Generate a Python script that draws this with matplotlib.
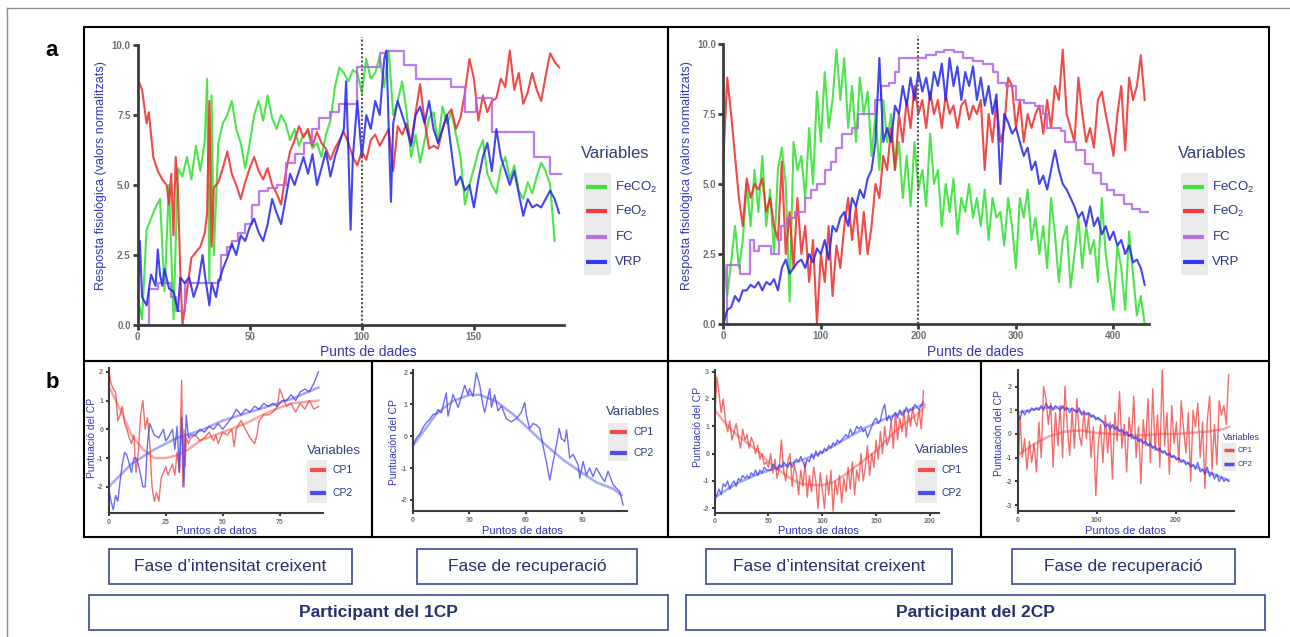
import matplotlib.pyplot as plt
from matplotlib.lines import Line2D
from matplotlib.patches import Rectangle

plt.rcParams['font.family'] = ['Liberation Sans', 'DejaVu Sans']
plt.rcParams['mathtext.fontset'] = 'custom'
plt.rcParams['mathtext.rm'] = 'Liberation Sans'
plt.rcParams['mathtext.it'] = 'Liberation Sans:italic'
plt.rcParams['axes.unicode_minus'] = False

W, H = 1290, 637

# ---------------- data : panel a, participant 1CP ----------------
var_labels = ['FeCO$_2$', 'FeO$_2$', 'FC', 'VRP']
top_yticks = [0, 2.5, 5, 7.5, 10]
top_yticklabels = ['0.0', '2.5', '5.0', '7.5', '10.0']
p1_xticks = [0, 50, 100, 150]
p2_xticks = [0, 100, 200, 300, 400]
p1_split = 100
p2_split = 200

p1_feco2_x = [0, 2, 4, 6, 8, 10, 12, 14, 16, 18, 20, 22, 24, 26, 28, 30, 31, 32, 33, 34,
              36, 38, 40, 42, 44, 46, 48, 50, 52, 54, 56, 58, 60, 62, 64, 66, 68, 70, 72, 74,
              76, 78, 80, 82, 84, 86, 88, 90, 92, 94, 96, 98, 100, 102, 104, 106, 108, 110, 112, 114,
              116, 118, 120, 122, 124, 126, 128, 130, 132, 134, 136, 138, 140, 142, 144, 146, 148, 150, 152, 154,
              156, 158, 160, 162, 164, 166, 168, 170, 172, 174, 176, 178, 180, 182, 184, 186]
p1_feco2 = [1.0, 0.2, 3.4, 3.8, 4.2, 4.5, 1.2, 5.0, 0.2, 5.6, 5.3, 6.0, 5.2, 6.4, 5.5, 6.6, 8.8, 1.5, 8.2, 2.5,
            6.5, 7.2, 7.5, 8.0, 7.0, 6.5, 5.6, 6.5, 7.5, 8.0, 7.3, 8.2, 7.4, 7.0, 7.5, 7.2, 6.6, 7.0, 6.4, 6.8,
            6.9, 6.3, 6.5, 6.0, 6.8, 7.3, 8.5, 9.2, 9.0, 8.7, 9.1, 9.0, 8.3, 9.5, 8.8, 9.0, 9.6, 8.5, 9.8, 7.5,
            8.0, 8.7, 7.6, 6.0, 6.8, 5.8, 6.6, 7.4, 7.6, 6.5, 7.8, 7.2, 7.6, 6.8, 6.0, 4.3, 5.0, 5.6, 6.2, 6.6,
            5.4, 5.0, 4.7, 5.6, 6.0, 5.2, 5.7, 4.8, 4.5, 5.1, 4.7, 5.3, 5.8, 5.5, 5.0, 3.0]

p1_feo2_x = [0, 2, 4, 5, 7, 9, 11, 13, 14, 15, 16, 17, 18, 19, 20, 22, 24, 26, 28, 30,
             31, 32, 33, 34, 36, 38, 40, 42, 44, 46, 48, 50, 52, 54, 56, 58, 60, 62, 64, 66,
             68, 70, 72, 74, 76, 78, 80, 82, 84, 86, 88, 90, 92, 94, 96, 98, 100, 102, 104, 106,
             108, 110, 112, 114, 116, 118, 120, 122, 124, 126, 128, 130, 132, 134, 136, 138, 140, 142, 144, 146,
             148, 150, 152, 154, 156, 158, 160, 162, 164, 166, 168, 170, 172, 174, 176, 178, 180, 182, 184, 186,
             188]
p1_feo2 = [8.8, 8.4, 7.2, 7.6, 6.0, 5.5, 5.2, 5.0, 4.3, 5.4, 3.2, 6.0, 4.8, 2.0, 0.0, 1.2, 2.4, 2.6, 2.8, 3.3,
           4.0, 8.0, 2.8, 4.9, 5.1, 5.6, 6.2, 5.4, 5.0, 4.5, 5.1, 5.6, 6.0, 5.5, 5.2, 5.6, 5.0, 4.7, 4.3, 5.4,
           6.2, 6.6, 7.1, 6.7, 7.0, 6.4, 6.9, 6.5, 6.3, 5.9, 6.3, 6.6, 6.9, 6.5, 6.0, 5.7, 6.2, 5.9, 6.6, 6.8,
           6.4, 6.7, 7.0, 5.5, 7.1, 6.8, 7.2, 6.5, 7.6, 8.6, 7.3, 6.3, 6.4, 6.3, 7.0, 7.5, 7.7, 7.0, 7.4, 8.3,
           9.5, 8.8, 7.3, 8.2, 7.6, 8.0, 8.1, 8.8, 8.5, 9.8, 8.4, 9.0, 7.9, 8.3, 9.0, 8.4, 8.0, 8.9, 9.7, 9.4,
           9.2]

p1_fc_x = [0, 5, 9, 15, 17, 21, 36, 37, 40, 42, 45, 48, 51, 54, 58, 62, 66, 70, 74, 78,
           81, 86, 90, 98, 108, 111, 119, 124, 140, 146, 151, 158, 177, 184, 189]
p1_fc = [0.0, 1.3, 1.5, 1.0, 0.5, 1.5, 1.6, 2.5, 2.8, 3.0, 3.3, 3.6, 4.3, 4.8, 4.9, 5.0, 5.8, 6.1, 6.5, 7.0,
         7.4, 7.6, 7.9, 9.2, 9.7, 9.8, 9.3, 8.8, 8.5, 7.6, 8.1, 6.9, 6.0, 5.4, 5.4]

p1_vrp_x = [0, 1, 2, 4, 6, 8, 9, 10, 11, 12, 14, 16, 18, 19, 21, 23, 25, 27, 29, 30,
            32, 33, 35, 36, 38, 40, 42, 44, 46, 48, 50, 52, 54, 56, 58, 60, 62, 64, 66, 68,
            70, 72, 74, 76, 78, 80, 82, 84, 86, 88, 90, 92, 93, 94, 95, 96, 98, 100, 102, 104,
            106, 108, 110, 111, 112, 113, 114, 116, 118, 120, 122, 124, 126, 128, 130, 132, 134, 136, 138, 140,
            142, 144, 146, 148, 150, 152, 154, 156, 158, 160, 162, 164, 166, 168, 170, 172, 174, 176, 178, 180,
            182, 184, 186, 188]
p1_vrp = [1.2, 3.0, 1.0, 0.7, 1.8, 1.4, 2.7, 1.8, 1.4, 2.0, 1.3, 1.2, 0.5, 1.7, 1.5, 1.7, 1.0, 1.5, 2.5, 1.8,
          0.7, 1.5, 1.0, 1.5, 2.0, 2.4, 2.9, 2.5, 3.2, 3.0, 3.5, 3.8, 3.3, 3.0, 3.6, 4.5, 4.0, 3.6, 4.5, 5.4,
          5.0, 5.5, 6.0, 5.4, 6.1, 5.0, 5.6, 6.2, 5.3, 6.0, 6.5, 7.0, 8.7, 6.2, 3.4, 6.0, 8.0, 6.0, 7.5, 7.0,
          8.0, 7.5, 9.5, 9.8, 7.0, 4.4, 7.2, 8.0, 7.5, 7.0, 6.4, 7.5, 7.8, 7.2, 8.0, 7.0, 6.5, 7.0, 7.5, 6.2,
          5.0, 5.3, 4.8, 5.0, 4.2, 5.2, 6.0, 6.5, 5.5, 7.0, 6.0, 5.5, 5.0, 5.5, 4.7, 3.9, 4.5, 4.2, 4.3, 4.2,
          4.5, 4.8, 4.5, 4.0]

# ---------------- data : panel a, participant 2CP ----------------
p2_x = list(range(0, 436, 4))
p2_feco2 = [2.5, 1.0, 2.2, 3.5, 2.0, 3.0, 5.0, 3.5, 5.5, 4.0,
            6.0, 3.5, 4.8, 2.5, 5.5, 6.3, 5.0, 0.8, 6.5, 5.5,
            6.0, 4.5, 7.0, 5.0, 8.3, 6.5, 9.0, 7.0, 8.0, 9.8,
            8.0, 9.5, 7.0, 8.5, 6.5, 8.8, 7.5, 8.3, 6.0, 7.5,
            5.5, 8.0, 6.5, 7.5, 5.5, 6.5, 4.5, 6.0, 4.2, 6.5,
            4.8, 5.5, 4.2, 6.8, 5.0, 5.5, 3.5, 5.0, 4.0, 5.2,
            3.2, 4.5, 4.0, 5.0, 3.8, 4.5, 3.5, 4.8, 3.0, 4.5,
            3.8, 4.0, 2.8, 4.5, 3.5, 2.0, 4.5, 3.8, 4.8, 3.0,
            3.8, 2.5, 3.5, 2.0, 4.5, 3.2, 1.5, 3.0, 3.5, 1.3,
            2.5, 3.8, 2.0, 3.5, 2.5, 3.0, 1.5, 4.5, 2.5, 1.5,
            0.5, 2.8, 2.0, 0.5, 3.3, 1.8, 0.3, 1.0, 0.0]
p2_feo2 = [5.8, 8.8, 7.5, 6.0, 4.5, 3.5, 5.2, 4.5, 5.0, 4.8,
           5.2, 4.0, 4.5, 3.5, 3.0, 5.8, 2.5, 4.0, 2.0, 4.5,
           2.5, 3.5, 1.5, 3.0, 0.0, 2.5, 1.5, 3.5, 1.0, 2.8,
           2.0, 3.5, 4.5, 3.0, 4.2, 2.5, 4.0, 2.5, 3.5, 5.0,
           4.5, 6.0, 5.5, 7.0, 5.5, 7.5, 6.5, 8.0, 7.0, 8.5,
           7.5, 8.0, 7.0, 8.3, 7.5, 8.0, 7.0, 8.2, 7.5, 7.8,
           7.0, 7.8, 8.0, 7.3, 7.8, 7.5, 8.0, 5.5, 7.5, 6.5,
           8.0, 6.5, 7.0, 8.8, 8.5, 7.0, 8.0, 6.5, 7.5, 7.0,
           7.5, 7.8, 6.8, 8.0, 7.0, 8.5, 8.0, 9.8, 7.5, 7.0,
           6.5, 8.8, 7.5, 6.5, 7.0, 6.3, 8.0, 8.3, 7.5, 6.8,
           6.0, 7.5, 8.5, 6.2, 8.8, 8.0, 8.5, 9.6, 8.0]
p2_vrp = [0.0, 0.5, 0.6, 1.0, 0.8, 1.2, 1.2, 1.4, 1.3, 1.5,
          1.2, 1.5, 1.4, 1.6, 1.2, 2.0, 2.3, 1.8, 2.0, 2.2,
          2.3, 2.0, 2.5, 2.2, 2.7, 2.5, 3.0, 2.3, 3.5, 3.3,
          3.8, 4.0, 3.5, 4.5, 4.2, 4.8, 4.5, 5.2, 5.5, 6.5,
          9.5, 6.5, 7.0, 6.5, 7.8, 7.5, 8.5, 7.8, 8.8, 8.0,
          9.0, 8.3, 8.8, 8.0, 9.0, 8.5, 9.3, 8.0, 9.5, 8.5,
          9.2, 8.0, 9.0, 8.5, 9.2, 8.0, 8.8, 7.8, 8.5, 7.5,
          8.2, 5.0, 7.5, 7.2, 6.8, 7.0, 6.5, 6.0, 6.3, 5.5,
          5.8, 5.0, 5.3, 4.8, 5.5, 6.2, 5.5, 5.0, 4.8, 4.5,
          4.2, 3.8, 4.0, 3.5, 4.2, 3.5, 3.8, 3.2, 3.5, 3.0,
          3.3, 2.8, 3.0, 2.5, 2.8, 2.2, 2.3, 2.0, 1.4]
p2_fc_x = [0, 4, 17, 27, 31, 37, 49, 57, 59, 65, 73, 84, 90, 96, 104, 110, 116, 122, 132, 138,
           156, 162, 170, 176, 180, 208, 218, 226, 236, 246, 256, 266, 276, 282, 290, 300, 308, 320, 328, 332,
           346, 350, 362, 371, 379, 387, 393, 401, 411, 419, 427, 436]
p2_fc = [0.0, 2.1, 1.8, 3.0, 2.6, 2.8, 2.5, 3.0, 3.5, 3.8, 4.0, 4.5, 4.8, 5.0, 5.5, 5.8, 6.3, 6.8, 7.0, 7.5,
         8.0, 8.5, 8.6, 9.0, 9.5, 9.6, 9.7, 9.8, 9.7, 9.5, 9.4, 9.3, 9.0, 8.6, 8.5, 8.0, 7.9, 7.8, 7.5, 7.0,
         6.9, 6.5, 6.2, 5.7, 5.4, 5.0, 4.8, 4.6, 4.3, 4.1, 4.0, 4.0]

# ---------------- data : panel b (principal component scores) ----------------
cp_labels = ['CP1', 'CP2']

b1_cp1_x = [0, 1, 2, 3, 4, 5, 6, 7, 8, 9, 10, 11, 12, 13, 14, 15, 16, 17, 18, 19,
            20, 21, 22, 23, 24, 25, 26, 27, 28, 29, 30, 31, 32, 32.5, 33, 33.5, 34, 35, 36, 38,
            40, 42, 44, 46, 47, 48, 50, 52, 54, 55, 56, 58, 60, 62, 64, 65, 66, 68, 70, 72,
            74, 75, 76, 78, 80, 82, 84, 86, 88, 90, 92]
b1_cp1 = [2.1, 1.6, 1.4, 1.3, 0.3, 0.5, 0.8, 0.2, 0.0, -0.3, -0.5, -0.2, -1.5, -0.8, 0.5, 1.0, 0.0, 0.4, -0.5, -2.0,
          -2.5, -2.2, -2.5, -1.7, -1.5, -1.3, -1.6, -1.4, -1.2, -1.6, -0.8, -1.5, 1.7, -2.0, 0.0, -1.3, -0.3, -0.5, -0.3, -0.2,
          -0.4, -0.3, -0.1, -0.4, -0.2, -0.5, -0.1, -0.2, 0.0, -0.6, 0.0, 0.3, 0.0, -0.3, -0.5, -0.2, 0.3, 0.5, 0.5, 0.6,
          0.8, 1.4, 1.2, 0.8, 0.9, 0.6, 0.9, 0.7, 1.0, 0.7, 0.8]
b1_cp2_x = [0, 1, 2, 3, 4, 5, 6, 7, 8, 9, 10, 11, 12, 13, 14, 15, 16, 17, 18, 19,
            20, 22, 24, 25, 26, 28, 29, 30, 31, 32, 33, 34, 35, 36, 38, 40, 42, 44, 46, 48,
            50, 52, 54, 56, 58, 60, 62, 64, 66, 68, 70, 72, 74, 76, 78, 80, 82, 84, 86, 88,
            90, 92]
b1_cp2 = [-2.0, -2.5, -2.8, -2.3, -2.5, -1.8, -1.2, -0.8, -0.9, -1.2, -1.5, -1.0, -1.0, -1.2, -1.6, -2.0, -2.0, -0.5, 0.2, 0.0,
          -0.2, -0.3, 0.0, -0.4, -0.3, 0.0, -0.7, 0.1, -1.5, 0.4, -2.0, 0.5, -0.3, -0.2, -0.2, 0.0, -0.1, 0.1, 0.0, 0.2,
          0.0, 0.2, 0.4, 0.7, 0.5, 0.7, 0.6, 0.8, 0.7, 0.9, 0.8, 0.9, 0.8, 1.0, 1.0, 1.2, 1.0, 1.3, 1.4, 1.3,
          1.6, 2.0]
b1_cp1_fit_x = [0, 5, 10, 15, 20, 25, 30, 35, 40, 50, 60, 70, 80, 92]
b1_cp1_fit = [1.5, 0.7, -0.2, -0.7, -1.0, -1.0, -0.9, -0.7, -0.4, -0.1, 0.2, 0.6, 0.9, 1.0]
b1_cp2_fit_x = [0, 10, 20, 30, 40, 50, 60, 70, 80, 92]
b1_cp2_fit = [-2.0, -1.2, -0.7, -0.3, -0.05, 0.3, 0.55, 0.8, 1.05, 1.45]

b2_cp2_x = [0, 1.8, 3.5, 5.3, 7.1, 8.9, 10.6, 12.4, 13.3, 15, 17.7, 18.6, 21.3, 24, 27.5, 29.3, 30, 31.9, 33.7, 35.5,
            37.2, 38.1, 40.8, 41.7, 43.4, 45.2, 47, 49.6, 52.3, 54.9, 57.6, 59.4, 60.3, 62, 63.8, 65.6, 67.4, 69.1, 70.9, 72.7,
            74.5, 76.2, 77.7, 78.9, 80.7, 81.6, 83.3, 85.1, 87.8, 88.6, 90.4, 92.2, 93.9, 95.7, 97.5, 100.1, 101.9, 103.7, 106.4, 108.2,
            109.9, 111.7]
b2_cp2 = [-0.3, -0.05, 0.06, 0.27, 0.43, 0.53, 0.68, 0.7, 0.84, 0.73, 1.36, 0.63, 1.31, 0.9, 1.6, 1.3, 1.5, 1.25, 2.0, 1.6,
          0.96, 0.75, 1.5, 0.9, 1.3, 0.8, 0.95, 0.55, 0.45, 0.55, 0.75, 1.06, 0.65, 0.24, 0.4, 0.35, 0.24, -0.3, -0.8, -1.38,
          -0.8, -0.3, 0.24, -0.07, -0.17, 0.2, -0.68, -0.57, -0.9, -1.32, -0.8, -1.22, -1.0, -1.27, -1.0, -1.27, -1.43, -1.1, -1.53, -1.64,
          -1.74, -2.16]
b2_cp2_fit_x = [0, 12.4, 21, 30, 35.5, 44, 53, 62, 71, 80, 88.6, 97.5, 106.4, 110.8]
b2_cp2_fit = [-0.3, 0.7, 1.1, 1.3, 1.3, 1.1, 0.7, 0.2, -0.3, -0.75, -1.1, -1.45, -1.65, -1.85]

b3_x = list(range(0, 196, 2))
b3_cp1 = [1.3, 2.8, 2.2, 1.5, 2.0, 1.2, 0.8, 1.2, 0.5, 0.8,
          1.1, 0.6, 0.2, 0.9, 0.5, 0.7, 0.2, 0.6, 0.4, 0.0,
          0.3, -0.2, 0.0, -0.4, -0.3, -0.5, 0.0, -0.7, -0.2, -0.9,
          -0.5, 0.5, -0.6, -1.0, -0.3, 0.0, -1.2, -0.4, -0.8, -1.5,
          -0.6, -1.2, -0.3, -1.6, -0.8, -1.4, -0.5, -1.0, -2.0, -0.7,
          -1.3, -2.0, -0.8, -1.5, -0.6, -2.1, -1.0, -1.5, -0.8, -1.8,
          -0.9, -1.4, -0.5, -1.3, -0.3, -1.5, -0.6, -1.0, 0.0, -1.0,
          -0.5, 0.3, -0.8, 0.0, -0.5, 0.5, -0.2, 0.8, 0.0, 1.0,
          0.3, 0.5, 1.2, 0.2, 1.5, 0.5, 1.3, 0.8, 1.6, 0.6,
          1.5, 1.0, 1.7, 1.2, 1.0, 1.6, 0.9, 2.3]
b3_cp2 = [-1.7, -1.5, -1.3, -1.5, -1.1, -1.2, -1.0, -1.3, -1.1, -1.0,
          -1.2, -0.9, -1.0, -0.8, -0.9, -0.8, -0.9, -0.7, -0.8, -0.6,
          -0.8, -0.6, -0.7, -0.5, -0.6, -0.6, -0.6, -0.4, -0.5, -0.6,
          -0.4, -0.5, -0.3, -0.4, -0.5, -0.3, -0.5, -0.3, -0.2, -0.3,
          -0.1, -0.3, -0.5, -0.2, -0.3, 0.0, -0.2, 0.1, -0.1, 0.1,
          0.0, 0.2, 0.1, 0.3, 0.2, 0.4, 0.3, 0.5, 0.4, 0.5,
          0.6, 0.7, 0.6, 0.9, 0.7, 0.8, 1.0, 0.9, 1.0, 0.8,
          0.9, 0.6, 0.8, 1.0, 1.2, 1.3, 1.1, 1.2, 1.6, 1.8,
          1.2, 1.4, 1.2, 1.4, 1.5, 1.3, 1.6, 1.4, 1.5, 1.7,
          1.5, 1.6, 1.6, 1.8, 1.7, 1.6, 1.8, 1.9]
b3_cp1_fit_x = [0, 10, 20, 30, 40, 50, 60, 70, 80, 90, 100, 110, 120, 130, 140, 150, 160, 170, 180, 190, 195]
b3_cp1_fit = [1.6, 1.1, 0.7, 0.4, 0.1, -0.3, -0.6, -0.9, -1.1, -1.15, -1.15, -1.05, -0.8, -0.5, -0.2, 0.1, 0.5, 0.9, 1.2, 1.5, 1.7]
b3_cp2_fit_x = [0, 20, 40, 60, 80, 100, 120, 140, 160, 180, 195]
b3_cp2_fit = [-1.6, -1.1, -0.75, -0.5, -0.25, 0.05, 0.5, 0.95, 1.3, 1.6, 1.8]

b4_x = list(range(0, 270, 3))
b4_cp1 = [-2.9, 0.8, -1.0, -0.2, -1.5, -0.3, -1.2, -0.4, -1.6, 0.5,
          -1.0, 2.0, 1.5, 0.4, 1.3, -1.4, 0.9, -0.5, 1.2, -1.0,
          2.0, 0.3, -0.9, 1.0, -0.6, 1.5, 0.0, -0.5, 1.0, -0.2,
          0.8, -1.0, 0.3, -2.6, -0.5, 0.4, -1.2, 0.8, -0.8, 0.5,
          -1.9, 0.9, -0.3, 1.8, -0.6, 0.4, -1.6, 0.7, -0.2, 1.6,
          -1.0, 0.3, -2.1, 0.6, -0.5, 1.5, -1.2, 1.9, -0.7, 0.8,
          -1.4, 2.8, -0.5, 0.9, -1.7, 1.2, -0.4, 0.5, -1.2, 1.4,
          0.2, -0.8, 0.9, -2.0, 1.0, 0.3, 1.3, -1.0, 0.5, -2.3,
          0.6, 1.6, -1.5, 0.4, -1.3, 1.4, 0.8, 1.2, 0.4, 2.5]
b4_cp2 = [0.9, 0.6, 1.0, 0.8, 1.0, 0.9, 1.1, 1.0, 1.1, 1.0,
          1.2, 1.0, 1.3, 1.1, 1.2, 1.0, 1.2, 1.1, 1.0, 1.2,
          1.0, 1.1, 0.9, 1.1, 1.0, 0.9, 1.1, 0.8, 0.9, 0.8,
          0.9, 0.7, 0.8, 0.6, 0.7, 0.6, 0.5, 0.3, 0.4, 0.2,
          0.4, 0.2, 0.3, 0.1, 0.2, 0.0, 0.1, -0.1, 0.0, -0.2,
          -0.1, -0.3, -0.2, -0.4, -0.3, -0.5, -0.4, -0.6, -0.5, -0.7,
          -0.6, -0.8, -0.7, -0.9, -0.8, -1.0, -0.9, -1.1, -1.0, -1.2,
          -1.1, -1.3, -1.2, -1.4, -1.3, -1.5, -1.2, -1.6, -1.5, -1.7,
          -1.4, -1.8, -1.6, -1.9, -1.7, -2.0, -1.8, -2.0, -1.9, -2.0]
b4_cp1_fit_x = [0, 20, 40, 60, 80, 100, 120, 140, 160, 180, 200, 220, 240, 260, 267]
b4_cp1_fit = [-0.9, -0.45, -0.1, 0.1, 0.15, 0.05, 0.0, -0.05, -0.05, 0.0, 0.0, 0.05, 0.1, 0.2, 0.3]
b4_cp2_fit_x = [0, 30, 60, 90, 120, 150, 180, 210, 240, 267]
b4_cp2_fit = [0.9, 1.1, 1.1, 0.85, 0.3, -0.2, -0.7, -1.15, -1.6, -1.95]

phase_labels = ['Fase d\u2019intensitat creixent', 'Fase de recuperaci\u00f3']
participant_labels = ['Participant del 1CP', 'Participant del 2CP']

# ---------------- styles ----------------
GREEN, RED, PURPLE, BLUE = '#2fe02f', '#ee2a2a', '#b066e6', '#2424ee'
B_RED, B_BLUE = '#f03c3c', '#3c3cf0'
AX_COL = '#3c3c3c'
LAB_COL = '#3636b8'
LEG_TITLE = '#34407e'
LEG_TEXT = '#2a3688'
BOX_EDGE = '#4a56a0'
BOX_TEXT = '#28306e'

fig = plt.figure(figsize=(W / 100, H / 100), dpi=100)


def px_axes(x0, x1, y0, y1):
    return fig.add_axes([x0 / W, 1 - y1 / H, (x1 - x0) / W, (y1 - y0) / H])


def ftext(x, y, s, **kw):
    fig.text(x / W, 1 - y / H, s, **kw)


def fline(x0, x1, y0, y1, **kw):
    fig.add_artist(Line2D([x0 / W, x1 / W], [1 - y0 / H, 1 - y1 / H],
                          transform=fig.transFigure, **kw))


def frect(x0, y0, x1, y1, **kw):
    fig.add_artist(Rectangle((x0 / W, 1 - y1 / H), (x1 - x0) / W, (y1 - y0) / H,
                             transform=fig.transFigure, **kw))


def style(ax, lw, size, length):
    for s in ('top', 'right'):
        ax.spines[s].set_visible(False)
    for s in ('left', 'bottom'):
        ax.spines[s].set_linewidth(lw)
        ax.spines[s].set_color(AX_COL)
    ax.tick_params(direction='out', length=length, width=lw, color=AX_COL,
                   labelsize=size, labelcolor='#707070', pad=1.5)
    for lab in ax.get_xticklabels() + ax.get_yticklabels():
        lab.set_fontweight('bold')
    ax.patch.set_alpha(0)


def legend(title_xy, tsize, kx, rows, labels, colors, lsize, klw, bg):
    frect(*bg, facecolor='#ebebeb', edgecolor='none')
    ftext(title_xy[0], title_xy[1], 'Variables', fontsize=tsize, color=LEG_TITLE,
          ha='center', va='center')
    for y, lab, c in zip(rows, labels, colors):
        fline(kx[0], kx[1], y, y, color=c, lw=klw, alpha=0.9, solid_capstyle='butt')
        ftext(kx[1] + (kx[1] - kx[0]) * 0.4, y, lab, fontsize=lsize, color=LEG_TEXT,
              ha='left', va='center')


# outer frame and panel boxes
fline(7, W, 8, 8, color='#8c8c8c', lw=1)
fline(7, 7, 8, H, color='#8c8c8c', lw=1)
for (x0, y0, x1, y1) in [(84, 27, 668, 361), (668, 27, 1269, 361),
                         (84, 361, 372, 537), (372, 361, 668, 537),
                         (668, 361, 981, 537), (981, 361, 1269, 537)]:
    frect(x0, y0, x1, y1, facecolor='none', edgecolor='black', lw=1.5)

ftext(52, 50, 'a', fontsize=16, fontweight='bold', ha='center', va='center')
ftext(52, 383, 'b', fontsize=16, fontweight='bold', ha='center', va='center')

# ---------------- panel a ----------------
top_colors = [GREEN, RED, PURPLE, BLUE]
for (x0, x1, y0, y1, xmax, xticks, split, series, fc, ylab_x, xlab_x, leg) in [
        (137.6, 563.6, 45, 325, 190, p1_xticks, p1_split,
         [(p1_feco2_x, p1_feco2), (p1_feo2_x, p1_feo2), None, (p1_vrp_x, p1_vrp)],
         (p1_fc_x, p1_fc), 101, 368, (586, 607, 584, 611)),
        (723.3, 1148.6, 44, 324, 436, p2_xticks, p2_split,
         [(p2_x, p2_feco2), (p2_x, p2_feo2), None, (p2_x, p2_vrp)],
         (p2_fc_x, p2_fc), 687, 975, (1183, 1204, 1181, 1208))]:
    ax = px_axes(x0, x1, y0, y1)
    for s, c in zip(series, top_colors):
        if s is None:
            ax.plot(fc[0], fc[1], color=PURPLE, lw=1.6, alpha=0.85, drawstyle='steps-post')
        else:
            ax.plot(s[0], s[1], color=c, lw=1.5, alpha=0.85)
    ax.axvline(split, ymin=0, ymax=1.03, color='#555555', ls=(0, (1, 1)), lw=1.5, clip_on=False)
    ax.set_xlim(0, xmax)
    ax.set_ylim(0, 10)
    ax.set_xticks(xticks)
    ax.set_yticks(top_yticks)
    ax.set_yticklabels(top_yticklabels)
    style(ax, 2.0, 7, 3.5)
    ftext(ylab_x, 176, 'Resposta fisiològica (valors normalitzats)', fontsize=9,
          color=LAB_COL, rotation=90, ha='center', va='center')
    ftext(xlab_x, 352, 'Punts de dades', fontsize=10, color=LAB_COL, ha='center', va='center')
    kx0, kx1, bx0, bx1 = leg
    legend(((bx0 + bx1) / 2 + 18, 153), 12, (kx0, kx1), [187, 211, 237, 262],
           var_labels, top_colors, 9.5, 3, (bx0, 173, bx1, 275))

# ---------------- panel b ----------------
b_panels = [
    dict(box=(108.7, 323, 368.3, 513.3), xlim=(0, 94), ylim=(-2.92, 2.12),
         xticks=[0, 25, 50, 75], yticks=[-2, -1, 0, 1, 2],
         lines=[(b1_cp1_x, b1_cp1, B_RED), (b1_cp2_x, b1_cp2, B_BLUE)],
         fits=[(b1_cp1_fit_x, b1_cp1_fit, B_RED), (b1_cp2_fit_x, b1_cp2_fit, B_BLUE)],
         ylab=('Puntuació del CP', 92, 438), xlab=216,
         leg=((334, 451), 9.5, (310, 326), [470, 493], 7.5, 3, (307, 460, 327, 503))),
    dict(box=(413, 626.7, 370, 511), xlim=(0, 113.6), ylim=(-2.35, 2.08),
         xticks=[0, 30, 60, 90], yticks=[-2, -1, 0, 1, 2],
         lines=[(b2_cp2_x, b2_cp2, B_BLUE)],
         fits=[(b2_cp2_fit_x, b2_cp2_fit, B_BLUE)],
         ylab=('Puntuación del CP', 394, 442), xlab=522,
         leg=((633, 412), 9.5, (610, 627), [432, 453], 7.5, 3, (608, 423, 628, 461))),
    dict(box=(714.7, 938.5, 370, 512.7), xlim=(0, 208), ylim=(-2.16, 3.06),
         xticks=[0, 50, 100, 150, 200], yticks=[-2, -1, 0, 1, 2, 3],
         lines=[(b3_x, b3_cp1, B_RED), (b3_x, b3_cp2, B_BLUE)],
         fits=[(b3_cp1_fit_x, b3_cp1_fit, B_RED), (b3_cp2_fit_x, b3_cp2_fit, B_BLUE)],
         ylab=('Puntuació del CP', 698, 427), xlab=818,
         leg=((942, 450), 9.5, (918, 935), [470, 493], 7.5, 3, (915, 460, 937, 503))),
    dict(box=(1017.5, 1234.2, 370, 511), xlim=(0, 274), ylim=(-3.25, 2.7),
         xticks=[0, 100, 200], yticks=[-3, -2, -1, 0, 1, 2],
         lines=[(b4_x, b4_cp1, B_RED), (b4_x, b4_cp2, B_BLUE)],
         fits=[(b4_cp1_fit_x, b4_cp1_fit, B_RED), (b4_cp2_fit_x, b4_cp2_fit, B_BLUE)],
         ylab=('Puntuación del CP', 999, 433), xlab=1125,
         leg=((1241, 437), 6.5, (1224, 1234), [450, 464], 5.5, 2.5, (1222, 443, 1236, 471))),
]

for p in b_panels:
    x0, x1, y0, y1 = p['box']
    ax = px_axes(x0, x1, y0, y1)
    for fx_, fy_, c in p['fits']:
        ax.plot(fx_, fy_, color=c, lw=1.8, alpha=0.45)
    for lx, ly, c in p['lines']:
        ax.plot(lx, ly, color=c, lw=1.0, alpha=0.75)
    ax.set_xlim(*p['xlim'])
    ax.set_ylim(*p['ylim'])
    ax.set_xticks(p['xticks'])
    ax.set_yticks(p['yticks'])
    style(ax, 1.5, 5, 2.5)
    text, lx_, ly_ = p['ylab']
    ftext(lx_, ly_, text, fontsize=7.5, color=LAB_COL, rotation=90, ha='center', va='center')
    ftext(p['xlab'], 531, 'Puntos de datos', fontsize=8, color=LAB_COL, ha='center', va='center')
    txy, tsize, kx, rows, lsize, klw, bg = p['leg']
    legend(txy, tsize, kx, rows, cp_labels, [B_RED, B_BLUE], lsize, klw, bg)

# ---------------- phase / participant boxes ----------------
phase_boxes = [(109, 352), (417, 637), (706, 952), (1012, 1235)]
for (x0, x1), lab in zip(phase_boxes, phase_labels * 2):
    frect(x0, 549, x1, 584, facecolor='white', edgecolor=BOX_EDGE, lw=1.3)
    ftext((x0 + x1) / 2, 566.5, lab, fontsize=12.5, color=BOX_TEXT, ha='center', va='center')

for (x0, x1), lab in zip([(89, 668), (686, 1265)], participant_labels):
    frect(x0, 595, x1, 630, facecolor='white', edgecolor=BOX_EDGE, lw=1.3)
    ftext((x0 + x1) / 2, 612.5, lab, fontsize=12.5, fontweight='bold', color=BOX_TEXT,
          ha='center', va='center')

fig.savefig('out.png', dpi=100)
